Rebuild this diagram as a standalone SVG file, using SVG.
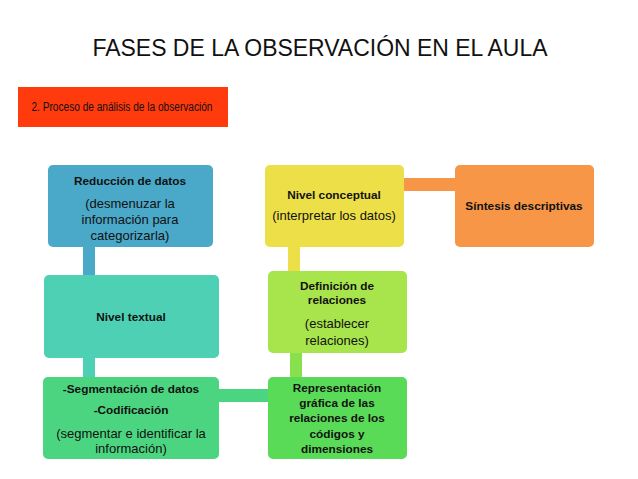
<svg xmlns="http://www.w3.org/2000/svg" width="638" height="479" viewBox="0 0 638 479">
<style>
text{font-family:"Liberation Sans",Arial,sans-serif;fill:#111;text-anchor:middle}
.b{font-weight:bold;font-size:11.8px}
.n{font-size:13px}
.box{rx:5;ry:5}
</style>
<rect width="638" height="479" fill="#fff"/>
<text x="320" y="56" font-size="23" textLength="455" lengthAdjust="spacingAndGlyphs">FASES DE LA OBSERVACIÓN EN EL AULA</text>
<g id="header">
<rect x="18" y="87" width="210" height="40" fill="#ff3a0c"/>
<text x="122" y="111" font-size="12" textLength="181" lengthAdjust="spacingAndGlyphs">2. Proceso de análisis de la observación</text>
</g>
<g id="connectors">
<rect x="83" y="247" width="12" height="28" fill="#4aa8c8"/>
<rect x="83" y="358" width="12" height="19" fill="#4dd0b4"/>
<rect x="219" y="389" width="49" height="13" fill="#4cd580"/>
<rect x="290" y="353" width="12" height="24" fill="#88e04c"/>
<rect x="288" y="247" width="12" height="24" fill="#ecdf47"/>
<rect x="404" y="178" width="51" height="13" fill="#f79646"/>
</g>
<g id="reduccion">
<rect class="box" x="48" y="165" width="165" height="82" fill="#4aa8c8"/>
<text class="b" x="130" y="185">Reducción de datos</text>
<text class="n" x="130" y="208">(desmenuzar la</text>
<text class="n" x="130" y="224">información para</text>
<text class="n" x="130" y="240">categorizarla)</text>
</g>
<g id="nivel-textual">
<rect class="box" x="44" y="275" width="175" height="83" fill="#4dd0b4"/>
<text class="b" x="131" y="321">Nivel textual</text>
</g>
<g id="segmentacion">
<rect class="box" x="43" y="377" width="176" height="82" fill="#4cd580"/>
<text class="b" x="131" y="393">-Segmentación de datos</text>
<text class="b" x="131" y="414">-Codificación</text>
<text class="n" x="131" y="438">(segmentar e identificar la</text>
<text class="n" x="131" y="453">información)</text>
</g>
<g id="representacion">
<rect class="box" x="268" y="377" width="139" height="82" fill="#5adb57"/>
<text class="b" x="337" y="392">Representación</text>
<text class="b" x="337" y="407">gráfica de las</text>
<text class="b" x="337" y="422">relaciones de los</text>
<text class="b" x="337" y="438">códigos y</text>
<text class="b" x="337" y="453">dimensiones</text>
</g>
<g id="definicion">
<rect class="box" x="268" y="271" width="139" height="82" fill="#a8e44b"/>
<text class="b" x="337" y="290">Definición de</text>
<text class="b" x="337" y="304">relaciones</text>
<text class="n" x="337" y="328">(establecer</text>
<text class="n" x="337" y="345">relaciones)</text>
</g>
<g id="nivel-conceptual">
<rect class="box" x="265" y="165" width="139" height="82" fill="#ecdf47"/>
<text class="b" x="334" y="199">Nivel conceptual</text>
<text class="n" x="334" y="220">(interpretar los datos)</text>
</g>
<g id="sintesis">
<rect class="box" x="455" y="165" width="139" height="82" fill="#f79646"/>
<text class="b" x="524" y="210">Síntesis descriptivas</text>
</g>
</svg>
